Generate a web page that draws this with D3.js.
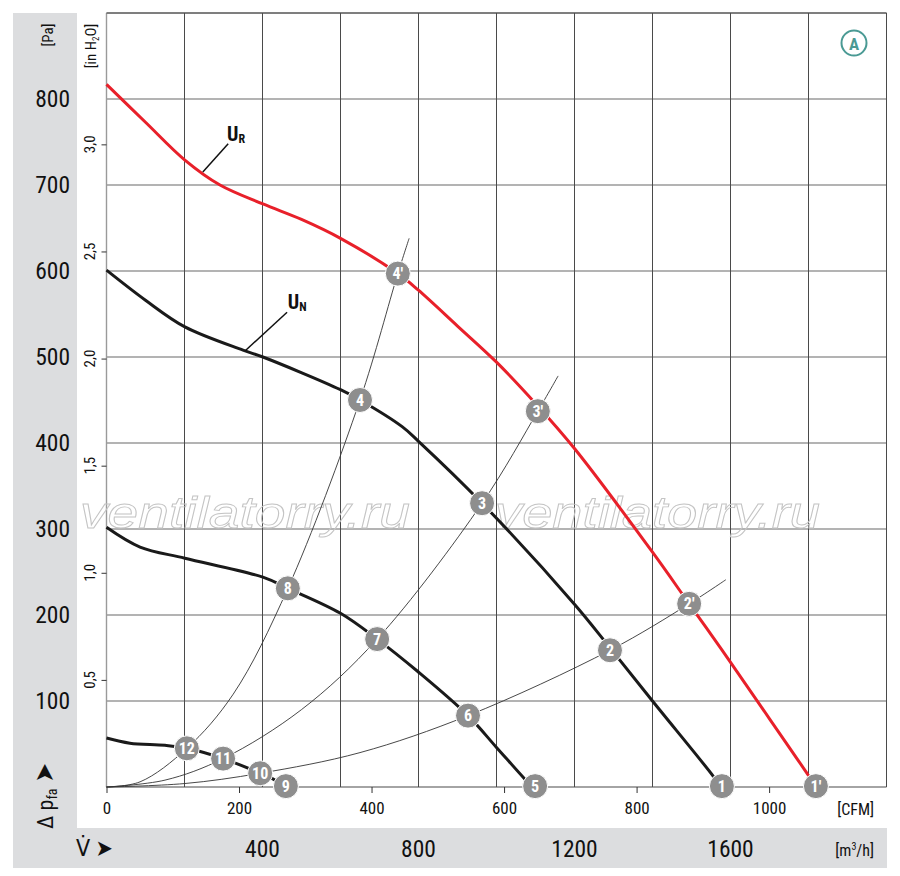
<!DOCTYPE html>
<html>
<head>
<meta charset="utf-8">
<script src="https://cdn.jsdelivr.net/npm/d3@7"></script>
<style>
  body { margin: 0; background: #fff; }
  svg { display: block; }
  text { font-family: "Liberation Sans Narrow", "Roboto Condensed", "DejaVu Sans Condensed", sans-serif; }
</style>
</head>
<body>
<div id="vis"></div>
<script>
// tick values
var paTicks = [100, 200, 300, 400, 500, 600, 700, 800];
var inH2OTicks = [0.5, 1.0, 1.5, 2.0, 2.5, 3.0];
var inH2OLabels = ["0,5", "1,0", "1,5", "2,0", "2,5", "3,0"];
var cfmTicks = [0, 200, 400, 600, 800, 1000];
var m3hTicks = [400, 800, 1200, 1600];

// fan curves, [m3/h, Pa]
var curveUR = [[0, 817], [100, 773], [201, 729], [291, 700], [401, 678], [500, 660], [600, 638],
  [747, 597], [799, 578], [900, 536], [1000, 494], [1100, 446], [1201, 393], [1400, 273], [1494, 213],
  [1577, 160], [1667, 101], [1799, 14], [1819, 0]];
var curveUN = [[0, 601], [100, 566], [201, 535], [350, 508], [401, 500], [600, 462], [650, 450],
  [758, 419], [800, 402], [963, 330], [1201, 212], [1289, 163], [1400, 100], [1555, 13], [1575, 0]];
var curveMid = [[0, 302], [86, 279], [201, 266], [401, 244], [465, 231], [600, 202], [694, 172],
  [799, 134], [927, 83], [1000, 46], [1075, 8], [1092, 0]];
var curveLow = [[0, 57], [60, 51], [150, 48.5], [206, 45], [299, 33], [394, 16], [432, 8], [460, 0]];

// system resistance curves
var sysA = [[0, 0], [86, 6], [206, 45], [325, 108], [465, 231], [650, 450], [747, 597], [776, 638]];
var sysB = [[0, 0], [150, 8], [299, 33], [500, 90], [694, 172], [963, 330], [1106, 437], [1158, 478]];
var sysC = [[0, 0], [200, 4], [394, 16], [650, 40], [927, 83], [1291, 159], [1494, 213], [1588, 241]];

// operating points
var pointLabels = ["1", "2", "3", "4", "1'", "2'", "3'", "4'", "5", "6", "7", "8", "9", "10", "11", "12"];
var pointQ = [1578, 1291, 963, 650, 1819, 1494, 1106, 747, 1099, 927, 694, 465, 460, 394, 299, 206];
var pointP = [1, 159, 330, 450, 1, 213, 437, 597, 1, 83, 172, 231, 1, 16, 33, 45];

var W = 900, H = 876;
var plot = {left: 106.5, right: 886.5, top: 13, bottom: 787};

var svg = d3.select("#vis").append("svg")
  .attr("width", W)
  .attr("height", H);

var x = d3.scaleLinear().domain([0, 2000]).range([plot.left, plot.right]);
var y = d3.scaleLinear().domain([0, 900]).range([plot.bottom, plot.top]);
var xCfm = d3.scaleLinear().domain([0, 2000 / 1.699]).range([plot.left, plot.right]);
var yIn = d3.scaleLinear().domain([0, 900 / 249.09]).range([plot.bottom, plot.top]);

// grey bands
svg.append("rect").attr("x", 13).attr("y", 13).attr("width", 64).attr("height", 855).attr("fill", "#dcdddf");
svg.append("rect").attr("x", 13).attr("y", 828).attr("width", 874).attr("height", 40).attr("fill", "#dcdddf");

// grid
var grid = svg.append("g");
grid.selectAll(".hg")
  .data(d3.range(100, 1000, 100))
  .enter().append("line")
  .attr("x1", plot.left).attr("x2", plot.right)
  .attr("y1", function(d) { return y(d); })
  .attr("y2", function(d) { return y(d); })
  .attr("stroke", "#9a9a9a")
  .attr("stroke-width", 1.4);
grid.selectAll(".vg")
  .data(d3.range(200, 2200, 200))
  .enter().append("line")
  .attr("y1", plot.top).attr("y2", plot.bottom)
  .attr("x1", function(d) { return x(d); })
  .attr("x2", function(d) { return x(d); })
  .attr("stroke", "#4a4a4a")
  .attr("stroke-width", 1);
grid.append("line")
  .attr("x1", plot.left).attr("x2", plot.left)
  .attr("y1", plot.top).attr("y2", plot.bottom)
  .attr("stroke", "#9a9a9a").attr("stroke-width", 1.4);
grid.append("line")
  .attr("x1", plot.left).attr("x2", plot.right)
  .attr("y1", plot.top).attr("y2", plot.top)
  .attr("stroke", "#4a4a4a").attr("stroke-width", 1);
grid.append("line")
  .attr("x1", plot.left).attr("x2", plot.right)
  .attr("y1", plot.bottom).attr("y2", plot.bottom)
  .attr("stroke", "#4a4a4a").attr("stroke-width", 1.2);

// watermark
[[80, 410], [495, 820]].forEach(function(w) {
  svg.append("text")
    .attr("x", w[0]).attr("y", 528)
    .attr("textLength", w[1] - w[0])
    .attr("lengthAdjust", "spacingAndGlyphs")
    .style("font-family", "'Liberation Sans', Arial, sans-serif")
    .style("font-style", "italic")
    .style("font-size", "45px")
    .attr("fill", "none")
    .attr("stroke", "#c4c4c4")
    .attr("stroke-width", 0.9)
    .text("ventilatorry.ru");
});

// Pa labels
svg.selectAll(".pa")
  .data(paTicks)
  .enter().append("text")
  .attr("x", 70)
  .attr("y", function(d) { return y(d) + 8; })
  .attr("text-anchor", "end")
  .style("font-size", "23.5px")
  .attr("fill", "#111")
  .text(function(d) { return d; });

svg.append("text")
  .attr("transform", "translate(53,35) rotate(-90)")
  .attr("text-anchor", "middle")
  .style("font-size", "15px")
  .attr("fill", "#111")
  .text("[Pa]");

// in H2O axis
svg.append("g")
  .attr("transform", "translate(" + plot.left + ",0)")
  .call(d3.axisLeft(yIn).tickValues(inH2OTicks).tickSize(5).tickFormat(""))
  .call(function(g) { g.select(".domain").remove(); })
  .call(function(g) { g.selectAll(".tick line").attr("stroke", "#333"); });

svg.selectAll(".inh")
  .data(inH2OTicks)
  .enter().append("text")
  .attr("transform", function(d) { return "translate(95," + yIn(d) + ") rotate(-90)"; })
  .attr("text-anchor", "middle")
  .style("font-size", "15px")
  .attr("fill", "#111")
  .text(function(d, i) { return inH2OLabels[i]; });

var inLab = svg.append("text")
  .attr("transform", "translate(96,46) rotate(-90)")
  .attr("text-anchor", "middle")
  .style("font-size", "15px")
  .attr("fill", "#111");
inLab.append("tspan").text("[in H");
inLab.append("tspan").attr("dy", 3).style("font-size", "9px").text("2");
inLab.append("tspan").attr("dy", -3).text("O]");

// CFM axis
svg.append("g")
  .attr("transform", "translate(0," + plot.bottom + ")")
  .call(d3.axisBottom(xCfm).tickValues(cfmTicks).tickSize(6).tickPadding(9).tickFormat(d3.format("d")))
  .call(function(g) { g.select(".domain").remove(); })
  .call(function(g) { g.selectAll(".tick line").attr("stroke", "#333"); })
  .call(function(g) {
    g.selectAll(".tick text")
      .style("font-family", "'Liberation Sans Narrow', 'Roboto Condensed', sans-serif")
      .style("font-size", "17px")
      .attr("fill", "#111");
  });

svg.append("text")
  .attr("x", 874).attr("y", 815)
  .attr("text-anchor", "end")
  .style("font-size", "16px")
  .attr("fill", "#111")
  .text("[CFM]");

// m3/h labels
svg.selectAll(".m3")
  .data(m3hTicks)
  .enter().append("text")
  .attr("x", function(d) { return x(d); })
  .attr("y", 857)
  .attr("text-anchor", "middle")
  .style("font-size", "23.5px")
  .attr("fill", "#111")
  .text(function(d) { return d; });

var m3Lab = svg.append("text")
  .attr("x", 874).attr("y", 856)
  .attr("text-anchor", "end")
  .style("font-size", "16px")
  .attr("fill", "#111");
m3Lab.append("tspan").text("[m");
m3Lab.append("tspan").attr("dy", -6).style("font-size", "10px").text("3");
m3Lab.append("tspan").attr("dy", 6).text("/h]");

// axis arrows
svg.append("text")
  .attr("x", 76).attr("y", 856)
  .style("font-size", "23px")
  .attr("fill", "#111")
  .text("V\u0307 \u27A4");

var dp = svg.append("text")
  .attr("transform", "translate(53,829) rotate(-90)")
  .style("font-size", "22px")
  .attr("fill", "#111");
dp.append("tspan").text("\u0394 p");
dp.append("tspan").attr("dy", 4).style("font-size", "14px").text("fa");
dp.append("tspan").attr("dy", -4).style("font-size", "26px").text(" \u27A4");

// system curves
var line = d3.line()
  .x(function(d) { return x(d[0]); })
  .y(function(d) { return y(d[1]); })
  .curve(d3.curveCatmullRom.alpha(0.5));

svg.selectAll(".sys")
  .data([sysA, sysB, sysC])
  .enter().append("path")
  .attr("d", line)
  .attr("fill", "none")
  .attr("stroke", "#333")
  .attr("stroke-width", 0.9);

// fan curves
svg.selectAll(".fan")
  .data([curveLow, curveMid, curveUN])
  .enter().append("path")
  .attr("d", line)
  .attr("fill", "none")
  .attr("stroke", "#1a1a1a")
  .attr("stroke-width", 3);

svg.append("path")
  .datum(curveUR)
  .attr("d", line)
  .attr("fill", "none")
  .attr("stroke", "#e8202a")
  .attr("stroke-width", 3);

// curve labels with leader lines
function curveLabel(q0, p0, q1, p1, qt, pt, main, sub) {
  svg.append("line")
    .attr("x1", x(q0)).attr("y1", y(p0))
    .attr("x2", x(q1)).attr("y2", y(p1))
    .attr("stroke", "#111").attr("stroke-width", 1.5);
  var t = svg.append("text")
    .attr("x", x(qt)).attr("y", y(pt))
    .style("font-size", "20px")
    .style("font-weight", "bold")
    .attr("fill", "#111");
  t.append("tspan").text(main);
  t.append("tspan").attr("dy", 2).style("font-size", "12px").text(sub);
}
curveLabel(247, 715, 312, 748, 309, 751, "U", "R");
curveLabel(355, 507, 463, 552, 465, 556, "U", "N");

// operating point markers
var pts = svg.selectAll(".pt")
  .data(pointLabels)
  .enter().append("g")
  .attr("transform", function(d, i) { return "translate(" + x(pointQ[i]) + "," + y(pointP[i]) + ")"; });

pts.append("circle")
  .attr("r", 12.5)
  .attr("fill", "#8e8e8e")
  .attr("stroke", "#fff")
  .attr("stroke-width", 1);

pts.append("text")
  .attr("y", 5.5)
  .attr("text-anchor", "middle")
  .style("font-size", "16px")
  .style("font-weight", "bold")
  .attr("fill", "#fff")
  .text(function(d) { return d; });

// badge
svg.append("circle")
  .attr("cx", 854).attr("cy", 43).attr("r", 12.5)
  .attr("fill", "none")
  .attr("stroke", "#4a9a94")
  .attr("stroke-width", 2);
svg.append("text")
  .attr("x", 854).attr("y", 49.5)
  .attr("text-anchor", "middle")
  .style("font-size", "17px")
  .style("font-weight", "bold")
  .attr("fill", "#4a9a94")
  .text("A");
</script>
</body>
</html>
